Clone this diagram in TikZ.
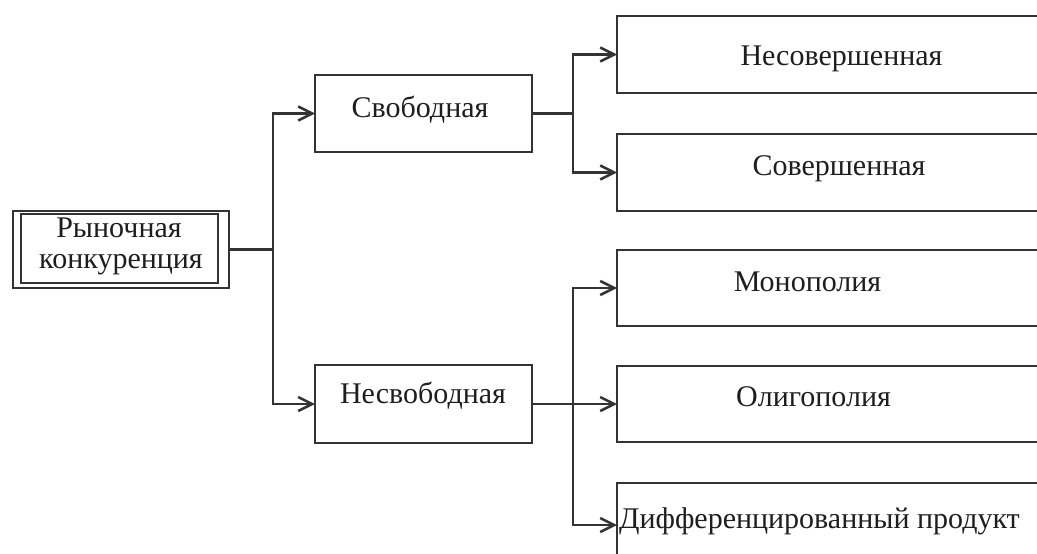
\documentclass[tikz,border=0pt]{standalone}
\usepackage{fontspec}
\setmainfont{Liberation Serif}
\usetikzlibrary{arrows.meta}
\definecolor{ln}{HTML}{333333}
\definecolor{tx}{HTML}{1E1E1E}
\tikzset{
  box/.style={draw=ln, line width=2.5pt, rectangle, inner sep=0pt, outer sep=0pt},
  lbl/.style={text=tx, font=\fontsize{30}{32}\selectfont, inner sep=0pt, anchor=base},
  ln/.style={draw=ln, line width=2.5pt},
  arr/.style={ln, -{Straight Barb[length=14pt,width=14pt,line width=2.5pt]}}
}
\begin{document}
\begin{tikzpicture}[x=1pt,y=-1pt]
\useasboundingbox (0,0) rectangle (1037,554);
\clip (0,0) rectangle (1037,554);
% left double box
\node[box, minimum width=216pt, minimum height=77pt] (L) at (121,249.5) {};
\node[box, line width=1.8pt, minimum width=197pt, minimum height=69pt] (Li) at (119.5,248.5) {};
\node[lbl] (tL1) at (119,237) {Рыночная};
\node[lbl] (tL2) at (121,268) {конкуренция};
% middle boxes
\node[box, minimum width=217pt, minimum height=77pt] (S) at (423.5,113.5) {};
\node[lbl] (tS) at (420,117) {Свободная};
\node[box, minimum width=217pt, minimum height=78pt] (N) at (423.5,404) {};
\node[lbl] (tN) at (423,403) {Несвободная};
% right boxes (cut at the right edge)
\node[box, minimum width=440pt, minimum height=77pt, anchor=north west] (r1) at (617,16) {};
\node[box, minimum width=440pt, minimum height=77pt, anchor=north west] (r2) at (617,134) {};
\node[box, minimum width=440pt, minimum height=76pt, anchor=north west] (r3) at (617,250) {};
\node[box, minimum width=440pt, minimum height=76pt, anchor=north west] (r4) at (617,366) {};
\node[box, minimum width=440pt, minimum height=84pt, anchor=north west] (r5) at (617,483) {};
\node[lbl] (t1) at (841.5,65) {Несовершенная};
\node[lbl] (t2) at (839,175) {Совершенная};
\node[lbl] (t3) at (807.5,291) {Монополия};
\node[lbl] (t4) at (813.5,406) {Олигополия};
\node[lbl, anchor=base west] (t5) at (619,528) {Дифференцированный продукт};
% connectors
\coordinate (j1) at (273,249.5);
\coordinate (j2) at (573,113.5);
\coordinate (j3) at (573,404);
\draw[ln] (L.east) -- (j1);
\draw[arr] (j1) |- (S.west);
\draw[arr] (j1) |- (N.west);
\draw[ln] (S.east) -- (j2);
\draw[arr] (j2) |- (r1.west);
\draw[arr] (j2) |- (r2.west);
\draw[arr] (N.east) -- (N.east -| r4.west);
\draw[arr] (j3) |- (r3.west);
\draw[arr] (j3) |- (r5.west);
\end{tikzpicture}
\end{document}
